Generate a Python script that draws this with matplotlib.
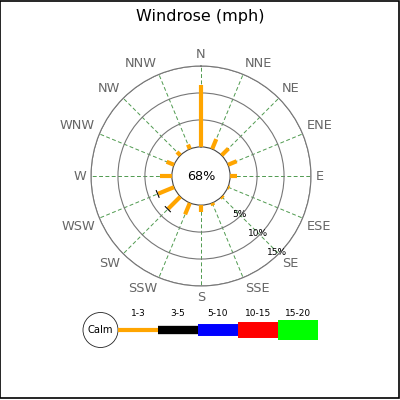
import matplotlib
matplotlib.use("Agg")
import matplotlib.pyplot as plt
import numpy as np
from matplotlib.patches import Circle, Rectangle

# data
directions = ["N", "NNE", "NE", "ENE", "E", "ESE", "SE", "SSE",
              "S", "SSW", "SW", "WSW", "W", "WNW", "NW", "NNW"]
speed_1_3 = [11.5, 2.0, 1.8, 1.75, 1.35, 0.3, 0.4, 0.5,
             1.2, 2.3, 3.2, 3.2, 2.2, 1.5, 0.9, 0.9]
speed_3_5 = [0, 0, 0, 0, 0, 0, 0, 0,
             0, 0, 0.2, 0.2, 0, 0, 0, 0]
calm_pct = 68
range_labels = ["1-3", "3-5", "5-10", "10-15", "15-20"]
range_colors = ["#ffa500", "#000000", "#0000ff", "#ff0000", "#00ff00"]
range_widths = [3.0, 6.0, 8.6, 11.5, 14.4]
circle_pcts = [5, 10, 15]

calm_offset = 5.4   # radius of the calm circle, in % units
r_max = 15

fig = plt.figure(figsize=(4, 4), dpi=100)
fig.patch.set_facecolor("white")

ax = fig.add_axes([0.2275, 0.285, 0.55, 0.55], projection="polar")
ax.set_theta_zero_location("N")
ax.set_theta_direction(-1)
ax.set_rorigin(-calm_offset)
ax.set_ylim(0, r_max)

angles = np.deg2rad(np.arange(len(directions)) * 360.0 / len(directions))
ax.set_xticks(angles)
ax.set_xticklabels([])
ax.set_yticks(circle_pcts)
ax.set_yticklabels([])
ax.xaxis.grid(True, color="#4f9a4f", linestyle=(0, (4, 2.5)), linewidth=0.7)
ax.yaxis.grid(True, color="#777777", linestyle="-", linewidth=0.8)
ax.spines["polar"].set_color("#777777")
ax.spines["polar"].set_linewidth(0.8)
ax.spines["inner"].set_color("#444444")
ax.spines["inner"].set_linewidth(0.8)
ax.tick_params(length=0)

# bars: stacked speed ranges per direction
for th, a, b in zip(angles, speed_1_3, speed_3_5):
    if a > 0:
        ax.plot([th, th], [0, a], color=range_colors[0], lw=range_widths[0],
                solid_capstyle="butt", zorder=3)
    if b > 0:
        ax.plot([th, th], [a, a + b], color=range_colors[1], lw=range_widths[1],
                solid_capstyle="butt", zorder=3)

# direction labels, anchored on the side facing the centre
label_r = r_max + 0.9
for th, name in zip(angles, directions):
    s, c = np.sin(th), np.cos(th)
    ha = "left" if s > 0.1 else ("right" if s < -0.1 else "center")
    va = "bottom" if c > 0.1 else ("top" if c < -0.1 else "center")
    ax.text(th, label_r, name, ha=ha, va=va, fontsize=9.3,
            color="#666666", clip_on=False)

# circle labels along SE
for p in circle_pcts:
    ax.text(np.deg2rad(135), p - 0.4, f"{p}%", ha="center", va="center",
            fontsize=6.5, color="black")

ax.text(0.5, 0.5, f"{calm_pct}%", transform=ax.transAxes, ha="center",
        va="center", fontsize=9.2)

fig.text(0.5, 1 - 17 / 400, "Windrose (mph)", ha="center", va="center",
         fontsize=11.5)

# legend in pixel coordinates
lax = fig.add_axes([0, 0, 1, 1])
lax.set_xlim(0, 400)
lax.set_ylim(400, 0)
lax.axis("off")
lax.set_zorder(-1)

cx, cy, cr = 100.5, 330, 17.5
lax.add_patch(Circle((cx, cy), cr, fill=False, ec="#222222", lw=0.6))
lax.text(cx, cy, "Calm", ha="center", va="center", fontsize=7.2)
seg_len = 40
x0 = cx + cr
for i, (lbl, col, w) in enumerate(zip(range_labels, range_colors, range_widths)):
    xs = x0 + i * seg_len
    lax.plot([xs, xs + seg_len], [cy, cy], color=col, lw=w, solid_capstyle="butt")
    lax.text(xs + seg_len / 2, 314, lbl, ha="center", va="center", fontsize=6.5)

fig.add_artist(Rectangle((0.001, 0.004), 0.997, 0.994, transform=fig.transFigure,
                         fill=False, ec="black", lw=1.2))

fig.savefig("out.png", dpi=100)
